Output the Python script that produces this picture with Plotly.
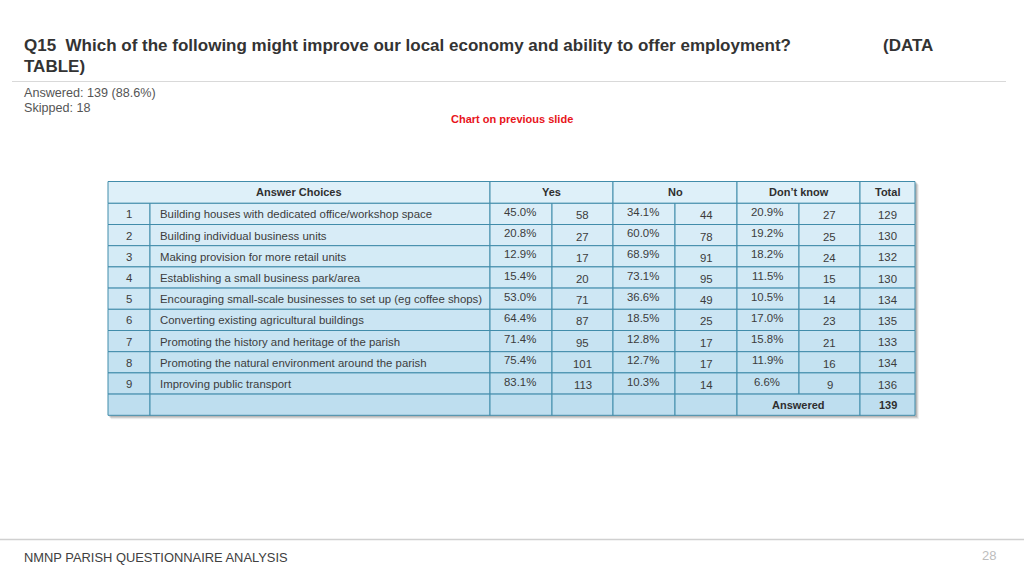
import plotly.graph_objects as go

# ---------------- data ----------------
choices = [
    "Building houses with dedicated office/workshop space",
    "Building individual business units",
    "Making provision for more retail units",
    "Establishing a small business park/area",
    "Encouraging small-scale businesses to set up (eg coffee shops)",
    "Converting existing agricultural buildings",
    "Promoting the history and heritage of the parish",
    "Promoting the natural environment around the parish",
    "Improving public transport",
]
yes_pct = [45.0, 20.8, 12.9, 15.4, 53.0, 64.4, 71.4, 75.4, 83.1]
yes_n = [58, 27, 17, 20, 71, 87, 95, 101, 113]
no_pct = [34.1, 60.0, 68.9, 73.1, 36.6, 18.5, 12.8, 12.7, 10.3]
no_n = [44, 78, 91, 95, 49, 25, 17, 17, 14]
dk_pct = [20.9, 19.2, 18.2, 11.5, 10.5, 17.0, 15.8, 11.9, 6.6]
dk_n = [27, 25, 24, 15, 14, 23, 21, 16, 9]
totals = [129, 130, 132, 130, 134, 135, 133, 134, 136]
answered = 139
answered_pct = 88.6
skipped = 18
header_labels = ["Answer Choices", "Yes", "No", "Don\u2019t know", "Total"]

title = "Q15  Which of the following might improve our local economy and ability to offer employment?"

# ---------------- layout geometry ----------------
cols = [108, 150, 490, 552, 613, 675, 737, 799, 860, 915]
top = 181.5
header_h = 21.8
row_h = 21.2
n_rows = len(choices) + 1
row_tops = [top + header_h + i * row_h for i in range(n_rows)]
bottom = row_tops[-1] + row_h

FONT = "Liberation Sans, Arial, sans-serif"
border = "#418caa"
CELL_SIZE = 11.4

def lerp_color(t):
    c0 = (224, 241, 250)
    c1 = (188, 221, 239)
    r, g, b = [round(a + (bb - a) * t) for a, bb in zip(c0, c1)]
    return f"rgb({r},{g},{b})"

shapes = []
annotations = []

def color_at(y):
    return lerp_color((y - top) / (bottom - top))

def cell(x0, x1, y0, y1):
    shapes.append(dict(type="rect", xref="x", yref="y", x0=x0, x1=x1, y0=y0, y1=y1,
                       fillcolor=color_at((y0 + y1) / 2),
                       line=dict(color=border, width=1), layer="below"))

def text(x, y, s, size=CELL_SIZE, color="#3c3c3c", bold=False, xanchor="center", family=FONT):
    if bold:
        s = f"<b>{s}</b>"
    annotations.append(dict(x=x, y=y, xref="x", yref="y", text=s, showarrow=False,
                            xanchor=xanchor, yanchor="middle",
                            font=dict(family=family, size=size, color=color)))

# shadow (soft)
for off, op in [(4, 0.06), (3, 0.10), (2, 0.14)]:
    shapes.append(dict(type="rect", xref="x", yref="y", x0=cols[0] + off - 1, x1=cols[-1] + off,
                       y0=top + off - 1, y1=bottom + off, fillcolor=f"rgba(0,0,0,{op})",
                       line=dict(width=0), layer="below"))

# header
hy0, hy1 = top, top + header_h
hc = (hy0 + hy1) / 2
header_spans = [(cols[0], cols[2]), (cols[2], cols[4]), (cols[4], cols[6]),
                (cols[6], cols[8]), (cols[8], cols[9])]
for (x0, x1), lab in zip(header_spans, header_labels):
    cell(x0, x1, hy0, hy1)
    text((x0 + x1) / 2, hc, lab, size=11, bold=True, color="#2f2f2f")

# body rows
for i in range(len(choices)):
    y0 = row_tops[i]
    y1 = y0 + row_h
    yc = (y0 + y1) / 2
    for j in range(len(cols) - 1):
        cell(cols[j], cols[j + 1], y0, y1)
    text((cols[0] + cols[1]) / 2, yc + 0.5, str(i + 1))
    text(cols[1] + 8, yc + 0.5, choices[i], xanchor="left")
    for k, (pv, nv) in enumerate([(yes_pct, yes_n), (no_pct, no_n), (dk_pct, dk_n)]):
        xa, xb, xc = cols[2 + 2 * k], cols[3 + 2 * k], cols[4 + 2 * k]
        text((xa + xb) / 2 - 1, yc - 2, f"{pv[i]:.1f}%")
        text((xb + xc) / 2, yc + 1.5, str(nv[i]))
    text((cols[8] + cols[9]) / 2, yc + 1, str(totals[i]))

# answered row
y0 = row_tops[-1]
y1 = y0 + row_h
yc = (y0 + y1) / 2
for j in range(6):
    cell(cols[j], cols[j + 1], y0, y1)
cell(cols[6], cols[8], y0, y1)
cell(cols[8], cols[9], y0, y1)
text((cols[6] + cols[8]) / 2, yc + 0.5, "Answered", size=11, bold=True, color="#2f2f2f")
text((cols[8] + cols[9]) / 2, yc + 0.5, str(answered), size=11, bold=True, color="#2f2f2f")

# slide decorations
shapes.append(dict(type="line", xref="x", yref="y", x0=12, x1=1006, y0=81.5, y1=81.5,
                   line=dict(color="#d9d9d9", width=1)))
shapes.append(dict(type="line", xref="x", yref="y", x0=0, x1=1024, y0=539.5, y1=539.5,
                   line=dict(color="#d0d0d0", width=1.5)))

text(22, 45, title, size=17, bold=True, color="#333333", xanchor="left")
text(881, 45, "(DATA", size=17, bold=True, color="#333333", xanchor="left")
text(22, 66, "TABLE)", size=17, bold=True, color="#333333", xanchor="left")
text(22, 93, f"Answered: {answered} ({answered_pct}%)", size=12.6, color="#555555", xanchor="left")
text(22, 108, f"Skipped: {skipped}", size=12.6, color="#555555", xanchor="left")
text(512, 119, "Chart on previous slide", size=11, bold=True, color="#e8141b")
text(22, 557, "NMNP PARISH QUESTIONNAIRE ANALYSIS", size=12.9, color="#404040", xanchor="left")
text(989, 555, "28", size=13, color="#bdbdbd")

fig = go.Figure()
fig.add_trace(go.Scatter(x=[0, 1024], y=[0, 576], mode="markers",
                         marker=dict(opacity=0), hoverinfo="skip", showlegend=False))
fig.update_layout(
    width=1024, height=576,
    margin=dict(l=0, r=0, t=0, b=0),
    paper_bgcolor="white", plot_bgcolor="white",
    xaxis=dict(range=[0, 1024], visible=False, fixedrange=True),
    yaxis=dict(range=[576, 0], visible=False, fixedrange=True),
    shapes=shapes, annotations=annotations,
    showlegend=False,
)
fig.write_html("out.html", post_script="document.body.style.margin='0';",
               config={"displayModeBar": False})
